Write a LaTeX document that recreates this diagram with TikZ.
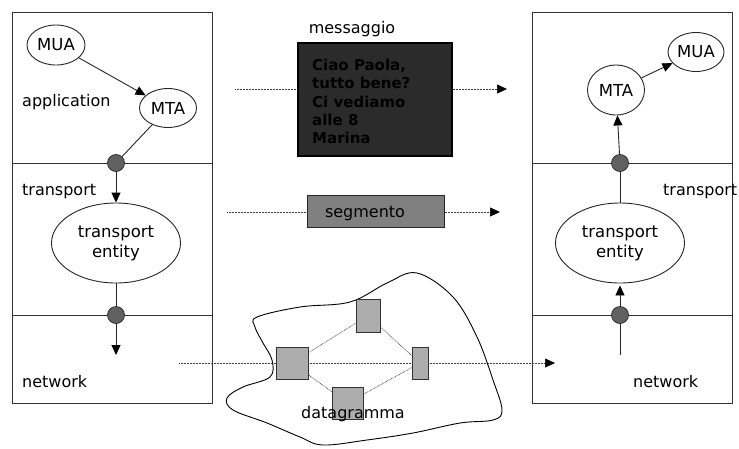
\documentclass[tikz,border=0pt]{standalone}
\usepackage{fontspec}
\setmainfont{DejaVu Sans}
\usetikzlibrary{arrows.meta,shapes.geometric}
\begin{document}
\begin{tikzpicture}[x=1pt,y=-1pt,
 lbl/.style={font=\fontsize{16}{19}\selectfont, inner sep=0pt},
 ell/.style={ellipse, draw=black!85, line width=0.9pt, fill=white, inner sep=0pt, font=\fontsize{16.5}{20}\selectfont, align=center},
 dotn/.style={circle, draw=black!80, line width=0.8pt, fill=black!62, minimum size=17pt, inner sep=0pt},
 tip/.style={-{Triangle[length=10pt,width=9pt,color=black]}},
 conn/.style={line width=0.9pt, black!85},
 dline/.style={dash pattern=on 0.7pt off 0.8pt, line width=0.7pt, black!75},
 router/.style={draw=black!80, fill=black!32, inner sep=0pt, line width=0.8pt},
 frame/.style={draw=black!80, line width=0.9pt}]
\useasboundingbox (0,0) rectangle (739,448);

% left stack
\draw[frame] (12,12) rectangle (212,403);
\draw[frame] (12,163) -- (212,163);
\draw[frame] (12,315) -- (212,315);
% right stack
\draw[frame] (532,12) rectangle (732,403);
\draw[frame] (532,163) -- (732,163);
\draw[frame] (532,315) -- (732,315);

% left nodes
\node[ell, minimum width=58pt, minimum height=40pt] (muaL) at (56,45) {MUA};
\node[ell, minimum width=57pt, minimum height=39pt] (mtaL) at (168,108) {MTA};
\node[ell, minimum width=129pt, minimum height=80pt] (teL) at (116,243) {transport\\entity};
\node[dotn] (dA) at (116,163) {};
\node[dotn] (dB) at (116,315) {};
\coordinate (endB) at (116,355);
\draw[conn,tip] (muaL) -- (mtaL);
\draw[conn] (mtaL) -- (dA);
\draw[conn,tip] (dA) -- (teL);
\draw[conn] (teL) -- (dB);
\draw[conn,tip] (dB) -- (endB);

% right nodes
\node[ell, minimum width=57pt, minimum height=50pt] (mtaR) at (616,90) {MTA};
\node[ell, minimum width=56pt, minimum height=39pt] (muaR) at (696,52) {MUA};
\node[ell, minimum width=129pt, minimum height=80pt] (teR) at (620,243) {transport\\entity};
\node[dotn] (dC) at (620,163) {};
\node[dotn] (dD) at (620,315) {};
\coordinate (endD) at (620,355);
\draw[conn,tip] (mtaR) -- (muaR);
\draw[conn,tip] (dC) -- (mtaR);
\draw[conn] (teR) -- (dC);
\draw[conn,tip,shorten >=2pt] (dD) -- (teR);
\draw[conn] (dD) -- (endD);

% layer labels
\node[lbl, anchor=base west] (lappL) at (22,106) {application};
\node[lbl, anchor=base west] (ltrL) at (22,195) {transport};
\node[lbl, anchor=base west] (lnetL) at (22,387) {network};
\node[lbl, anchor=base west] (ltrR) at (663,195) {transport};
\node[lbl, anchor=base west] (lnetR) at (633,387) {network};

% messaggio
\node[lbl, anchor=base] (lmsg) at (352,33) {messaggio};
\node[draw=black, line width=1.3pt, fill=black!83, minimum width=154pt, minimum height=113pt, inner sep=0pt] (msg) at (375,99.5) {};
\node[anchor=north west, inner sep=0pt, font=\fontsize{15}{18.2}\selectfont\bfseries, align=left] (msgtxt) at (312,59) {Ciao Paola,\\tutto bene?\\Ci vediamo\\alle 8\\Marina};
\coordinate (m0) at (235,89);
\coordinate (m1) at (507,89);
\draw[dline] (m0) -- (msg.west |- m0);
\draw[dline,tip] (msg.east |- m1) -- (m1);

% segmento
\node[draw=black!85, line width=1pt, fill=black!50, minimum width=137pt, minimum height=32pt, inner sep=0pt] (seg) at (375.5,211) {};
\node[lbl, anchor=base] (lseg) at (365,217) {segmento};
\coordinate (s0) at (227,212);
\coordinate (s1) at (500,212);
\draw[dline] (s0) -- (seg.west |- s0);
\draw[dline,tip] (seg.east |- s1) -- (s1);

% datagramma
\coordinate (d0) at (179,363);
\coordinate (d1) at (555,363);
\draw[dline,tip] (d0) -- (d1);
\draw[line width=0.9pt] plot[smooth cycle, tension=0.6] coordinates {
 (257,317) (300,307) (350,302) (387,283) (417,273) (453,297) (477,337)
 (493,380) (502,410) (493,420) (460,423) (413,433) (367,440) (323,445)
 (300,437) (267,423) (233,410) (227,398) (243,387) (270,377) (272,360)
 (263,343) (255,327)};
\node[router, minimum width=32pt, minimum height=32pt] (rL) at (292,363) {};
\node[router, minimum width=24pt, minimum height=33pt] (rT) at (368,315.5) {};
\node[router, minimum width=16pt, minimum height=32pt] (rR) at (420,363) {};
\node[router, minimum width=31pt, minimum height=32pt] (rB) at (347.5,403) {};
\draw[dline] (rL) -- (rT);
\draw[dline] (rT) -- (rR);
\draw[dline] (rR) -- (rB);
\draw[dline] (rB) -- (rL);
\node[lbl, anchor=base] (ldg) at (353,418) {datagramma};
\end{tikzpicture}
\end{document}
